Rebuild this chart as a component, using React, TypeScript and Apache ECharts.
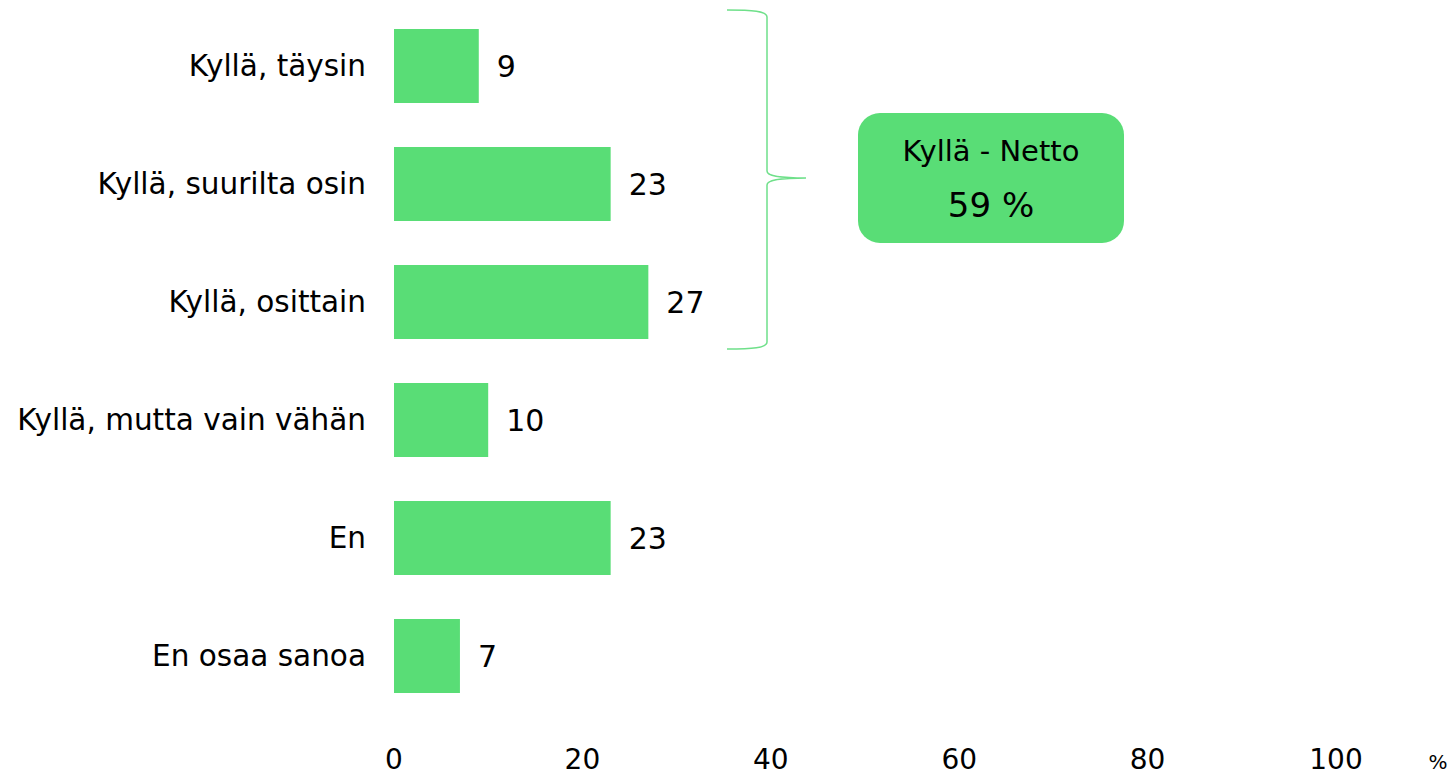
import React, { useEffect, useRef } from "react";
import * as echarts from "echarts";

const categories = [
  "Kyllä, täysin",
  "Kyllä, suurilta osin",
  "Kyllä, osittain",
  "Kyllä, mutta vain vähän",
  "En",
  "En osaa sanoa",
];
const values = [9, 23, 27, 10, 23, 7];
const netLabel = "Kyllä - Netto";
const netValue = "59 %";
const unitLabel = "%";

const GREEN = "#59DD76";
const FONT = "'DejaVu Sans', Verdana, sans-serif";

const bracePath =
  "M727,10 C752,10 767,11 767,17 L767,171 C767,176 778,178 806,178 C778,178 767,180 767,185 L767,342 C767,348 752,349 727,349";

let registered = false;

export default function App() {
  const ref = useRef<HTMLDivElement>(null);
  useEffect(() => {
    document.body.style.margin = "0";
    if (!registered) {
      echarts.graphic.registerShape("brace", echarts.graphic.extendPath(bracePath, {}));
      registered = true;
    }
    const chart = echarts.init(ref.current!, null, { renderer: "svg" });
    chart.setOption({
      animation: false,
      backgroundColor: "#ffffff",
      grid: { left: 394, right: 119, top: 7, bottom: 60, containLabel: false },
      xAxis: {
        type: "value",
        min: 0,
        max: 100,
        interval: 20,
        axisLine: { show: false },
        axisTick: { show: false },
        splitLine: { show: false },
        axisLabel: { color: "#000", fontFamily: FONT, fontSize: 28, margin: 30 },
      },
      yAxis: {
        type: "category",
        data: categories,
        inverse: true,
        axisLine: { show: false },
        axisTick: { show: false },
        axisLabel: { color: "#000", fontFamily: FONT, fontSize: 29.5, margin: 28 },
      },
      series: [
        {
          type: "bar",
          data: values,
          barWidth: 74,
          itemStyle: { color: GREEN },
          label: {
            show: true,
            position: "right",
            distance: 18,
            color: "#000",
            fontFamily: FONT,
            fontSize: 30,
          },
        },
      ],
      graphic: [
        {
          type: "brace",
          x: 0,
          y: 0,
          style: { fill: "none", stroke: "#6FE08A", lineWidth: 1.5 },
        },
        {
          type: "rect",
          shape: { x: 858, y: 113, width: 266, height: 130, r: 22 },
          style: { fill: GREEN },
        },
        {
          type: "text",
          x: 991,
          y: 151,
          style: {
            text: netLabel,
            fill: "#000",
            font: `29px ${FONT}`,
            align: "center",
            verticalAlign: "middle",
          },
        },
        {
          type: "text",
          x: 991,
          y: 205,
          style: {
            text: netValue,
            fill: "#000",
            font: `34px ${FONT}`,
            align: "center",
            verticalAlign: "middle",
          },
        },
        {
          type: "text",
          x: 1438,
          y: 762,
          style: {
            text: unitLabel,
            fill: "#000",
            font: `20px ${FONT}`,
            align: "center",
            verticalAlign: "middle",
          },
        },
      ],
    });
    return () => chart.dispose();
  }, []);
  return <div ref={ref} style={{ width: 1455, height: 775 }} />;
}
